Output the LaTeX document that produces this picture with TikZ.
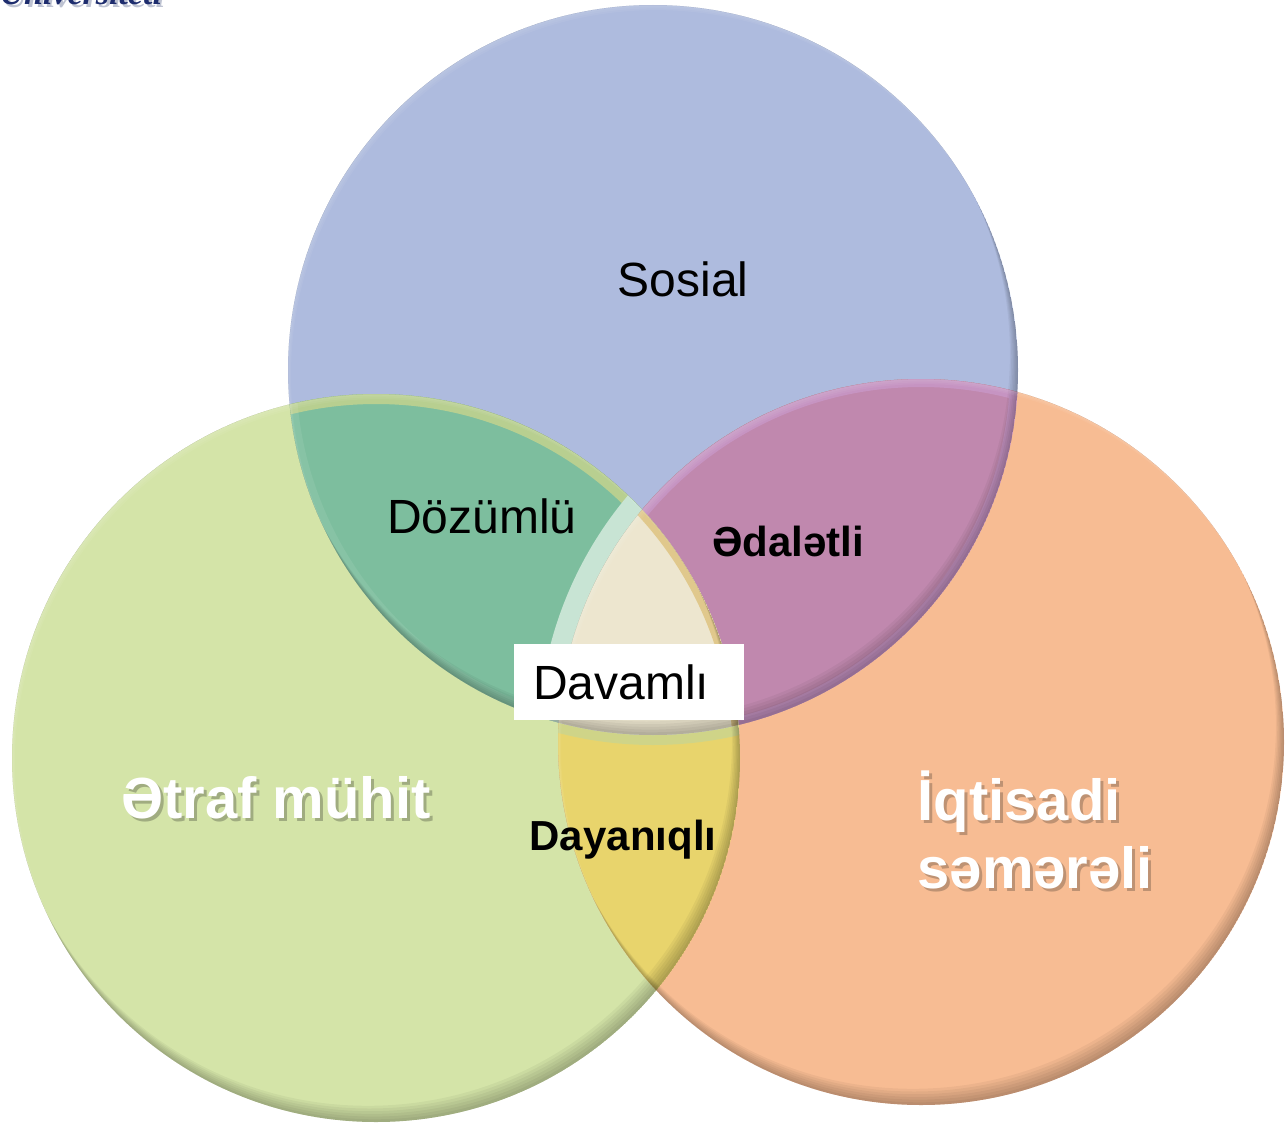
\documentclass[tikz,border=0pt]{standalone}
\usepackage{fontspec}
\setmainfont{Liberation Sans}
\newfontfamily\logofont{Liberation Serif}
\definecolor{socialblue}{RGB}{174,187,222}
\definecolor{envgreen}{RGB}{212,228,168}
\definecolor{ecoorange}{RGB}{247,188,147}
\definecolor{tolgreen}{RGB}{125,190,158}
\definecolor{fairmauve}{RGB}{192,136,174}
\definecolor{durgold}{RGB}{232,212,108}
\definecolor{coreivory}{RGB}{237,230,207}
\definecolor{paleteal}{RGB}{200,228,212}
\definecolor{tanrim}{RGB}{224,200,140}
\definecolor{mauverim}{RGB}{200,152,200}
\definecolor{limerim}{RGB}{205,213,140}
\definecolor{logonavy}{RGB}{30,45,110}
\definecolor{logoshade}{RGB}{190,195,210}
\definecolor{greenshade}{RGB}{160,172,128}
\definecolor{orangeshade}{RGB}{190,146,115}
% text with a soft drop shadow below and to the right
\newcommand\dropshadowed[2]{\rlap{\kern3pt\raisebox{-3pt}{\textcolor{#1}{#2}}}#2}
\begin{document}
\begin{tikzpicture}[x=1pt,y=-1pt,
  plainlabel/.style={text=black,font=\fontsize{48}{56}\selectfont},
  boldlabel/.style={text=black,font=\fontsize{42}{50}\selectfont\bfseries},
  whitelabel/.style={text=white,font=\fontsize{58}{70}\selectfont\bfseries,align=left},
  davbox/.style={fill=white,minimum width=230pt,minimum height=76pt,text width=192pt,
    inner xsep=19pt,inner ysep=0pt,align=left,font=\fontsize{48}{56}\selectfont}]
\useasboundingbox (0,0) rectangle (1285,1124);
\clip (0,0) rectangle (1285,1124);
\fill[white] (0,0) rectangle (1285,1124);

% centres of the three discs
\coordinate (soc) at (653,370);
\coordinate (env) at (376,758);
\coordinate (eco) at (921,742);
\def\cS{(soc) circle[radius=365pt]}
\def\cE{(env) circle[radius=364pt]}
\def\cK{(eco) circle[radius=363pt]}

% institution name, cut by the top edge
\node[anchor=base west,text=logonavy,font=\logofont\fontsize{34}{40}\selectfont\bfseries\itshape]
  (logo) at (-4,5) {\dropshadowed{logoshade}{Universiteti}};

% base discs
\fill[socialblue] \cS;
\fill[envgreen] \cE;
\fill[ecoorange] \cK;

% pairwise overlaps
\begin{scope}\clip \cS; \fill[tolgreen] \cE; \end{scope}
\begin{scope}\clip \cS; \fill[fairmauve] \cK; \end{scope}
\begin{scope}\clip \cE; \fill[durgold] \cK; \end{scope}

% soft rims of the overlaps
\begin{scope}\clip \cS; \clip \cE;
  \draw[limerim,opacity=0.75,line width=20pt] \cE;
  \draw[white,opacity=0.08,line width=16pt] \cS;
\end{scope}
\begin{scope}\clip \cS; \clip \cK;
  \draw[mauverim,opacity=0.8,line width=16pt] \cK;
  \draw[mauverim,opacity=0.8,line width=16pt] \cS;
\end{scope}
\begin{scope}\clip \cE; \clip \cK;
  \begin{scope}[even odd rule]\clip (0,0) rectangle (1285,1124) \cS;
    \draw[limerim,opacity=0.9,line width=20pt] \cS;
  \end{scope}
\end{scope}

% triple overlap with its pale glow
\begin{scope}\clip \cS; \clip \cE;
  \fill[paleteal] (eco) circle[radius=383pt];
  \fill[coreivory] \cK;
  \clip \cK;
  \draw[tanrim,line width=14pt] \cE;
\end{scope}

% inner shadows towards the lower right of every disc
\foreach \c/\r in {soc/365,env/364,eco/363}{
  \begin{scope}
    \clip (\c) circle[radius=\r pt];
    \foreach \d in {3,6,...,18}{
      \fill[black,opacity=0.045,even odd rule] (\c) circle[radius=\r pt]
        ([shift={(-0.45*\d,-0.9*\d)}]\c) circle[radius=\r pt];
    }
    \foreach \d in {2,4,6}{
      \fill[white,opacity=0.05,even odd rule] (\c) circle[radius=\r pt]
        ([shift={(0.5*\d,0.85*\d)}]\c) circle[radius=\r pt];
    }
  \end{scope}
}

% labels
\node[plainlabel,anchor=base] (sosial) at (683,296) {Sosial};
\node[plainlabel,anchor=base] (dozumlu) at (482,533) {Dözümlü};
\node[boldlabel,anchor=base] (edaletli) at (788,556) {Ədalətli};
\node[boldlabel,anchor=base] (dayaniqli) at (623,850) {Dayanıqlı};
\node[davbox,anchor=north west] (davamli) at (514,644) {Davamlı};

\node[whitelabel,anchor=base] (etraf) at (276,818) {\dropshadowed{greenshade}{Ətraf mühit}};
\node[whitelabel,anchor=base west] (iqt) at (914,820) {\dropshadowed{orangeshade}{İqtisadi}};
\node[whitelabel,anchor=base west] (sem) at (914,888) {\dropshadowed{orangeshade}{səmərəli}};
\end{tikzpicture}
\end{document}
